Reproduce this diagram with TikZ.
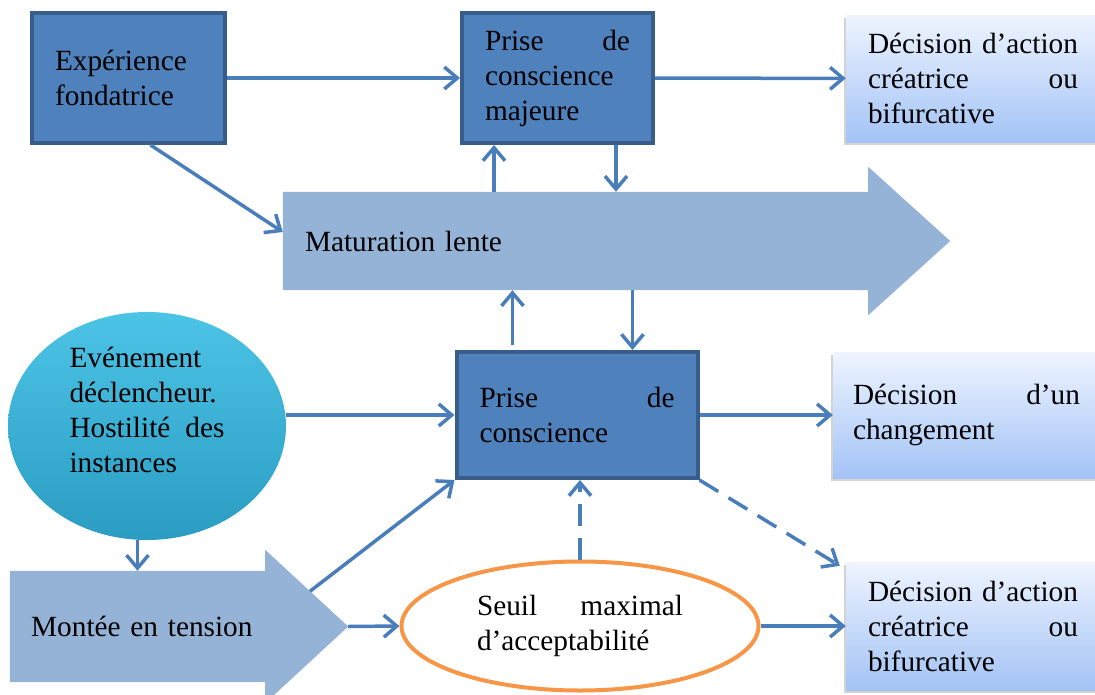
\documentclass[tikz,border=0pt]{standalone}
\usepackage{fontspec}
\setmainfont{Liberation Serif}
\usepackage{tikz}
\usetikzlibrary{arrows.meta,calc,shapes.geometric,shadows,backgrounds}

\definecolor{boxblue}{HTML}{4F81BD}
\definecolor{boxborder}{HTML}{385D8A}
\definecolor{linkblue}{HTML}{4A7EBB}
\definecolor{fatblue}{HTML}{95B3D7}
\definecolor{paletop}{HTML}{EEF4FF}
\definecolor{palebottom}{HTML}{A3C3F5}
\definecolor{turqtop}{HTML}{4CC4E6}
\definecolor{turqbottom}{HTML}{2B9CC2}
\definecolor{seuilorange}{HTML}{F79646}

\begin{document}
\begin{tikzpicture}[x=1pt, y=-1pt,
	every node/.style={font=\fontsize{29.3}{35}\selectfont},
	darkbox/.style={draw=boxborder, line width=4pt, fill=boxblue, rectangle, minimum height=130, inner xsep=23, align=left},
	palebox/.style={rectangle, top color=paletop, bottom color=palebottom, inner xsep=22, align=left,
		drop shadow={opacity=0.35, shadow xshift=-2pt, shadow yshift=-3pt}},
	link/.style={draw=linkblue, line width=3.5pt, -{Straight Barb[length=13pt,width=22pt]}},
	dashlink/.style={link, dash pattern=on 22pt off 12pt}]
				\useasboundingbox (0,0) rectangle (1095,694);

				\node (exp) [darkbox, text width=147] at (128.5,78) {Expérience\\fondatrice};
				\node (pm) [darkbox, text width=145] at (557.5,78) {Prise\hfill de\\conscience\\majeure};
				\node (dec1) [palebox, minimum height=127, text width=210] at (973,78.5) {Décision\hfill d’action\\créatrice\hfill ou\\bifurcative};
				\node (mat) [rectangle, minimum height=98, text width=541, inner xsep=22, align=left] at (575.5,241) {Maturation lente};
				\node (evt) [ellipse, top color=turqtop, bottom color=turqbottom, minimum width=278, minimum height=228,
					label={[text width=155, align=left, yshift=16pt]center:Evénement\\déclencheur.\\Hostilité\hfill des\\instances}] at (147,426) {};
				\node (pc) [darkbox, minimum height=126, text width=195] at (577,415) {Prise\hfill de\\conscience};
				\node (dch) [palebox, minimum height=126, text width=227, inner xsep=20] at (966.5,415) {Décision\hfill d’un\\changement};
				\node (mon) [rectangle, minimum height=111, text width=230, inner xsep=12.5, align=right] at (137.5,626.5) {Montée en tension};
				\node (seu) [ellipse, draw=seuilorange, line width=4pt, fill=white, minimum width=357, minimum height=129, text width=206, align=left] at (580,626) {Seuil\hfill maximal\\d’acceptabilité};
				\node (dec2) [palebox, minimum height=128, text width=210] at (973,626) {Décision\hfill d’action\\créatrice\hfill ou\\bifurcative};

				% Big arrows
				\coordinate (mattip) at ($(mat.east)+(82,0)$);
				\coordinate (montop) at ($(mon.north east)+(0,-21)$);
				\coordinate (montip) at ($(mon.east)+(83,0)$);
				\begin{scope}[on background layer]
					\fill[fatblue] (mat.south west) -- (mat.north west) -- (mat.north east) -- ++(0,-25) -- (mattip) -- ($(mat.south east)+(0,25)$) -- (mat.south east) -- cycle;
					\fill[fatblue] (mon.south west) -- (mon.north west) -- (mon.north east) -- (montop) -- (montip) -- ($(mon.south east)+(0,21)$) -- (mon.south east) -- cycle;
				\end{scope}

				% Arrows
				\draw[link] (exp) -- (pm);
				\draw[link] (pm) -- (dec1);
				\draw[link] ([xshift=22pt]exp.south) -- ([yshift=9pt]mat.west);
				\draw[link] ([xshift=34pt]pm.south west |- mat.north) -- ([xshift=34pt]pm.south west);
				\draw[link] ([xshift=-39pt]pm.south east) -- ([xshift=-39pt]pm.south east |- mat.north);
				\draw[link] ([xshift=58pt,yshift=5pt]pc.north west) -- ([xshift=58pt]pc.north west |- mat.south);
				\draw[link] ([xshift=-67pt]pc.north east |- mat.south) -- ([xshift=-67pt]pc.north east);
				\draw[link] (pc.west -| evt.east) -- (pc.west);
				\draw[link] (pc) -- (dch);
				\draw[link] (evt.south -| mon.north) -- (mon.north);
				\draw[link] ($(montop)!0.54!(montip)$) -- (pc.south west);
				\draw[link] (montip) -- (seu.west);
				\draw[link] (seu.east) -- (dec2.west);
				\draw[dashlink] (seu.north) -- (seu.north |- pc.south);
				\draw[dashlink] (pc.south east) -- ([xshift=-6pt,yshift=-4pt]dec2.north west);
\end{tikzpicture}
\end{document}
